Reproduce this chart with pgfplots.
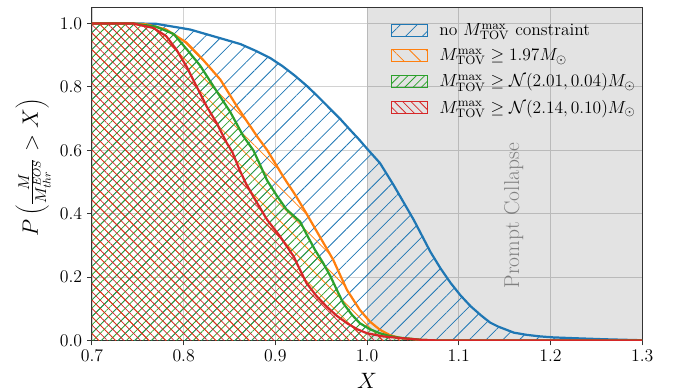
\RequirePackage{fix-cm}
\documentclass[border=0pt]{standalone}
\usepackage{pgfplots}
\pgfplotsset{compat=1.18}
\usepackage{pgfplotstable}
\usetikzlibrary{patterns.meta}
\definecolor{cblue}{HTML}{1F77B4}
\definecolor{corange}{HTML}{FF7F0E}
\definecolor{cgreen}{HTML}{2CA02C}
\definecolor{cred}{HTML}{D62728}

\pgfplotstableread{
x y
0.60 1.0
0.75 1.0
0.77 0.999
0.807 0.981
0.843 0.951
0.862 0.935
0.88 0.912
0.895 0.89
0.908 0.865
0.921 0.836
0.934 0.804
0.947 0.768
0.96 0.73
0.971 0.698
0.981 0.666
0.991 0.635
1.0 0.605
1.014 0.56
1.029 0.49
1.04 0.435
1.051 0.38
1.06 0.33
1.069 0.28
1.08 0.228
1.091 0.182
1.102 0.142
1.113 0.108
1.124 0.08
1.134 0.057
1.143 0.044
1.152 0.034
1.16 0.025
1.174 0.018
1.189 0.013
1.203 0.010
1.23 0.007
1.26 0.004
1.3 0.001
}\tblue

\pgfplotstableread{
x y
0.60 1.0
0.745 1.0
0.76 0.997
0.781 0.981
0.803 0.94
0.821 0.886
0.84 0.823
0.858 0.739
0.88 0.644
0.891 0.601
0.909 0.515
0.922 0.458
0.934 0.40
0.948 0.33
0.963 0.255
0.978 0.16
0.992 0.097
1.003 0.06
1.014 0.034
1.025 0.017
1.036 0.008
1.06 0.002
1.08 0.0
1.3 0.0
}\torange

\pgfplotstableread{
x y
0.60 1.0
0.745 1.0
0.77 0.99
0.789 0.967
0.803 0.92
0.818 0.867
0.832 0.804
0.851 0.72
0.865 0.645
0.876 0.60
0.884 0.55
0.891 0.505
0.902 0.455
0.912 0.414
0.927 0.375
0.935 0.33
0.943 0.287
0.952 0.245
0.96 0.203
0.967 0.16
0.974 0.118
0.983 0.083
0.992 0.055
1.003 0.036
1.014 0.023
1.025 0.014
1.036 0.009
1.06 0.002
1.08 0.0
1.3 0.0
}\tgreen

\pgfplotstableread{
x y
0.60 1.0
0.745 1.0
0.749 0.997
0.767 0.986
0.781 0.96
0.792 0.918
0.803 0.865
0.814 0.802
0.825 0.739
0.836 0.686
0.847 0.623
0.853 0.595
0.861 0.538
0.868 0.495
0.876 0.454
0.884 0.415
0.891 0.381
0.905 0.329
0.92 0.265
0.927 0.222
0.934 0.181
0.945 0.14
0.956 0.107
0.967 0.078
0.978 0.055
0.989 0.036
1.0 0.023
1.018 0.013
1.036 0.008
1.06 0.002
1.08 0.0
1.3 0.0
}\tred

\begin{document}
\begin{tikzpicture}
\useasboundingbox (-66.2pt,-36.9pt) rectangle (423.4pt,245.2pt);
\begin{axis}[
  at={(0pt,0pt)}, anchor=south west,
  width=396.2pt, height=239.7pt, scale only axis,
  xmin=0.7, xmax=1.3, ymin=0, ymax=1.05,
  xtick={0.7,0.8,0.9,1.0,1.1,1.2,1.3},
  ytick={0,0.2,0.4,0.6,0.8,1.0},
  xticklabel style={/pgf/number format/.cd, fixed, fixed zerofill, precision=1},
  yticklabel style={/pgf/number format/.cd, fixed, fixed zerofill, precision=1},
  tick label style={font=\fontsize{12.8}{15}\selectfont},
  grid=major, grid style={color=gray!35, line width=0.6pt},
  axis line style={color=black!80, line width=0.8pt},
  tick style={color=black!80, line width=0.8pt},
  tick align=outside, tick pos=left, major tick length=3.5pt,
  xlabel={$X$},
  ylabel={$P\left(\frac{M}{M_{thr}^{EOS}} > X\right)$},
  every axis y label/.style={at={(axis description cs:-0.107,0.52)},rotate=90,anchor=center},
  every axis x label/.style={at={(axis description cs:0.5,-0.12)},anchor=center},
  label style={font=\fontsize{16}{19}\selectfont},
  legend style={at={(axis description cs:0.535,0.97)}, anchor=north west, draw=none, fill=none,
    font=\fontsize{12.6}{15}\selectfont, row sep=4pt},
  legend cell align=left,
]
\addplot[draw=none, fill=black, fill opacity=0.11, forget plot] coordinates {(1.0,1.05) (1.3,1.05)} \closedcycle;

\addplot[draw=none, pattern={Lines[angle=45,distance=8.5pt,line width=0.55pt]}, pattern color=cblue, forget plot] table[x=x,y=y] {\tblue} \closedcycle;
\addplot[draw=none, pattern={Lines[angle=-45,distance=8.5pt,line width=0.55pt]}, pattern color=corange, forget plot] table[x=x,y=y] {\torange} \closedcycle;
\addplot[draw=none, pattern={Lines[angle=45,distance=4.25pt,line width=0.55pt]}, pattern color=cgreen, forget plot] table[x=x,y=y] {\tgreen} \closedcycle;
\addplot[draw=none, pattern={Lines[angle=-45,distance=4.25pt,line width=0.55pt]}, pattern color=cred, forget plot] table[x=x,y=y] {\tred} \closedcycle;

\addplot[cblue, line width=1.6pt, forget plot] table[x=x,y=y] {\tblue};
\addplot[corange, line width=1.6pt, forget plot] table[x=x,y=y] {\torange};
\addplot[cgreen, line width=1.6pt, forget plot] table[x=x,y=y] {\tgreen};
\addplot[cred, line width=1.6pt, forget plot] table[x=x,y=y] {\tred};

\node[rotate=90, text=gray, font=\fontsize{15.5}{18}\selectfont] at (axis cs:1.16,0.394) {Prompt Collapse};

\addlegendimage{legend image code/.code={\draw[draw=cblue, line width=1pt, pattern={Lines[angle=45,distance=8.5pt,line width=0.55pt]}, pattern color=cblue] (0pt,-4.3pt) rectangle (26pt,4.3pt); \path[draw=none] (26pt,0pt) -- (32.5pt,0pt);}}
\addlegendentry{no $M_{\mathrm{TOV}}^{\max}$ constraint}
\addlegendimage{legend image code/.code={\draw[draw=corange, line width=1pt, pattern={Lines[angle=-45,distance=8.5pt,line width=0.55pt]}, pattern color=corange] (0pt,-4.3pt) rectangle (26pt,4.3pt); \path[draw=none] (26pt,0pt) -- (32.5pt,0pt);}}
\addlegendentry{$M_{\mathrm{TOV}}^{\max} \geq 1.97 M_{\odot}$}
\addlegendimage{legend image code/.code={\draw[draw=cgreen, line width=1pt, pattern={Lines[angle=45,distance=4.25pt,line width=0.55pt]}, pattern color=cgreen] (0pt,-4.3pt) rectangle (26pt,4.3pt); \path[draw=none] (26pt,0pt) -- (32.5pt,0pt);}}
\addlegendentry{$M_{\mathrm{TOV}}^{\max} \geq \mathcal{N}(2.01, 0.04) M_{\odot}$}
\addlegendimage{legend image code/.code={\draw[draw=cred, line width=1pt, pattern={Lines[angle=-45,distance=4.25pt,line width=0.55pt]}, pattern color=cred] (0pt,-4.3pt) rectangle (26pt,4.3pt); \path[draw=none] (26pt,0pt) -- (32.5pt,0pt);}}
\addlegendentry{$M_{\mathrm{TOV}}^{\max} \geq \mathcal{N}(2.14, 0.10) M_{\odot}$}
\end{axis}
\end{tikzpicture}
\end{document}
